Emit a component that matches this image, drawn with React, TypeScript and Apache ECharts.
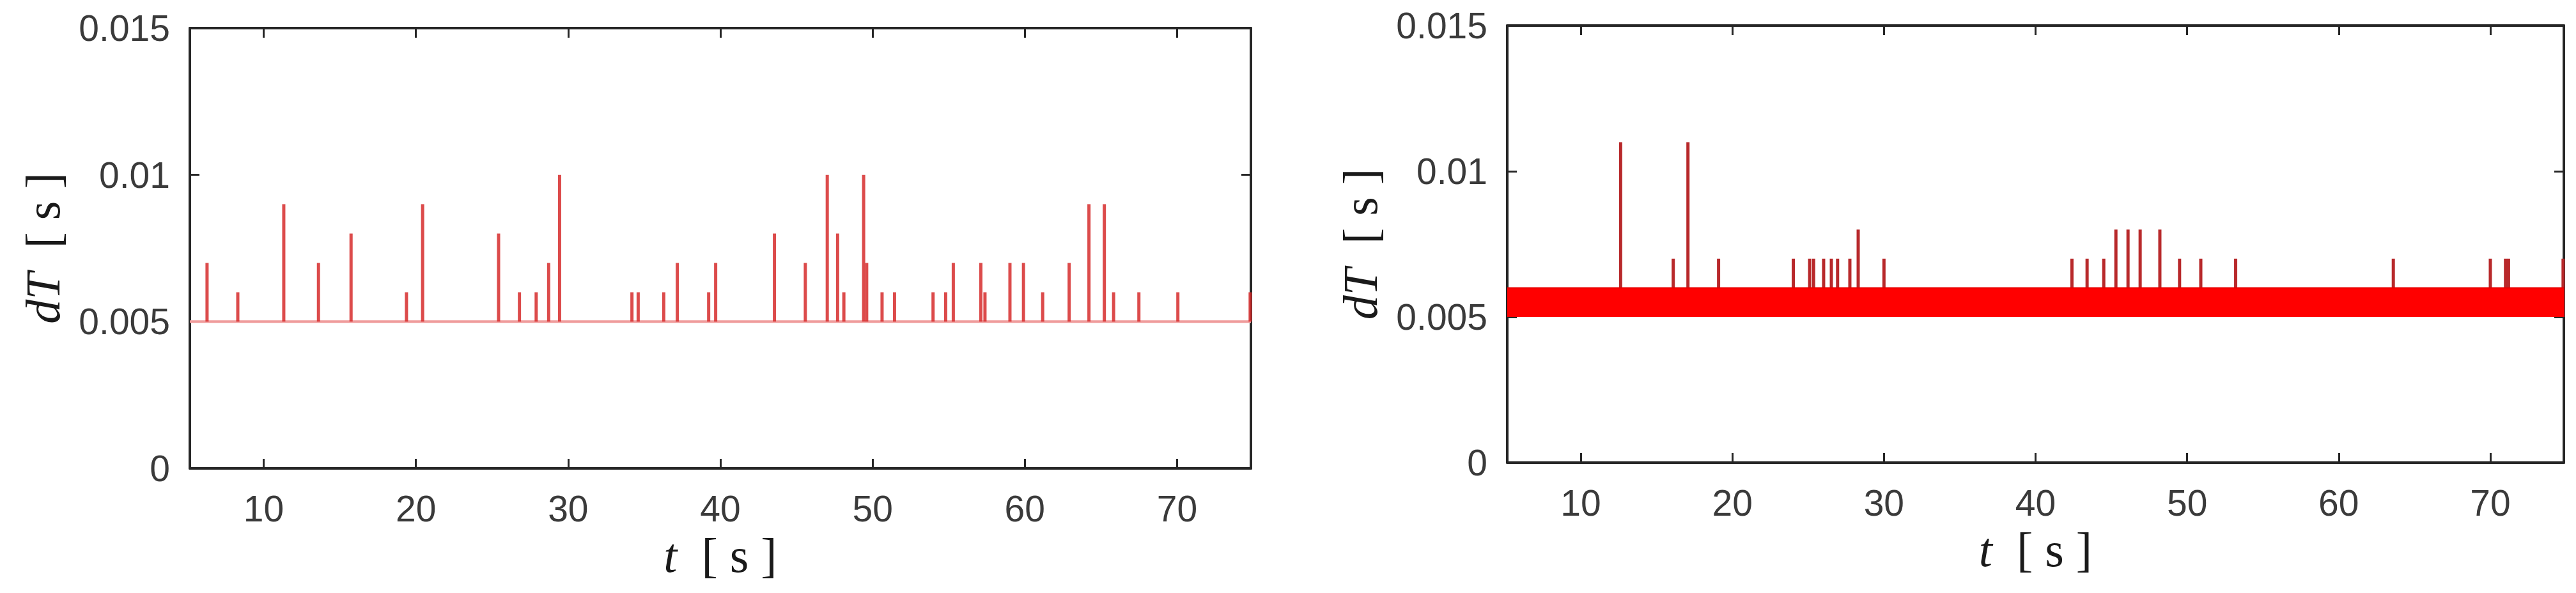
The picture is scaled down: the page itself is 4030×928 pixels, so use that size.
import React, { useEffect, useRef } from "react";
import * as echarts from "echarts";

// ---- Data ----
const tickValuesT = [10, 20, 30, 40, 50, 60, 70];

// Left panel: baseline dT and isolated spikes
const leftBaseline = 0.005;
const leftSpikeT = [
  6.28, 8.3, 11.32, 13.6, 15.74, 19.38, 20.44, 25.43, 26.8, 27.9, 28.72, 29.44,
  34.19, 34.6, 36.28, 37.17, 39.23, 39.69, 43.55, 45.58, 47.02, 47.7, 48.11,
  49.41, 49.61, 50.62, 51.44, 53.97, 54.8, 55.3, 57.11, 57.38, 59.02, 59.91,
  61.17, 62.91, 64.21, 65.22, 65.83, 67.49, 70.05, 74.8,
];
const leftSpikeV = [
  0.007, 0.006, 0.009, 0.007, 0.008, 0.006, 0.009, 0.008, 0.006, 0.006, 0.007,
  0.01, 0.006, 0.006, 0.006, 0.007, 0.006, 0.007, 0.008, 0.007, 0.01, 0.008,
  0.006, 0.01, 0.007, 0.006, 0.006, 0.006, 0.006, 0.007, 0.007, 0.006, 0.007,
  0.007, 0.006, 0.007, 0.009, 0.009, 0.006, 0.006, 0.006, 0.006,
];

// Right panel: dense jitter band between 5 ms and 6 ms, plus spikes
const rightBandLow = 0.005;
const rightBandHigh = 0.006;
const rightSpikeT = [
  12.63, 16.1, 17.07, 19.09, 24.02, 25.1, 25.36, 26.02, 26.53, 26.94, 27.75,
  28.3, 30.0, 42.4, 43.4, 44.5, 45.3, 46.1, 46.9, 48.2, 49.5, 50.9, 53.2, 63.6,
  70.0, 71.0, 71.2, 74.8,
];
const rightSpikeV = [
  0.011, 0.007, 0.011, 0.007, 0.007, 0.007, 0.007, 0.007, 0.007, 0.007, 0.007,
  0.008, 0.007, 0.007, 0.007, 0.007, 0.008, 0.008, 0.008, 0.008, 0.007, 0.007,
  0.007, 0.007, 0.007, 0.007, 0.007, 0.007,
];

const T_MIN = 5.15;
const T_MAX = 74.85;
const Y_MIN = 0;
const Y_MAX = 0.015;
const Y_STEP = 0.005;

const AXIS_COLOR = "#262626";
const LABEL_COLOR = "#3a3a3a";
const SANS = "Liberation Sans, Arial, Helvetica, sans-serif";
const SERIF = "Liberation Serif, Times New Roman, serif";

const nameRich = {
  it: { fontFamily: SERIF, fontStyle: "italic", fontSize: 76, color: "#1a1a1a" },
  rm: { fontFamily: SERIF, fontSize: 76, color: "#1a1a1a" },
};

function spikeSeries(
  xi: number,
  yi: number,
  ts: number[],
  vs: number[],
  base: number,
  color: string,
  width: number,
  z: number
) {
  return {
    type: "custom",
    xAxisIndex: xi,
    yAxisIndex: yi,
    z,
    silent: true,
    data: ts.map((t, i) => [t, vs[i]]),
    encode: { x: 0, y: 1 },
    renderItem: (_params: any, api: any) => {
      const t = api.value(0);
      const v = api.value(1);
      const p0 = api.coord([t, base]);
      const p1 = api.coord([t, v]);
      return {
        type: "line",
        shape: { x1: p0[0], y1: p0[1], x2: p1[0], y2: p1[1] },
        style: { stroke: color, lineWidth: width },
      };
    },
  };
}

function xAxes(gridIndex: number) {
  const common = {
    type: "value",
    gridIndex,
    min: T_MIN,
    max: T_MAX,
    splitLine: { show: false },
    axisLine: { show: true, onZero: false, lineStyle: { color: AXIS_COLOR, width: 4 } },
    axisTick: {
      show: true,
      inside: true,
      length: 15,
      customValues: tickValuesT,
      lineStyle: { color: AXIS_COLOR, width: 3 },
    },
  };
  return [
    {
      ...common,
      position: "bottom",
      name: "{it|t}{rm|  [ s ]}",
      nameLocation: "middle",
      nameGap: 98,
      nameTextStyle: { rich: nameRich },
      axisLabel: {
        show: true,
        customValues: tickValuesT,
        margin: 34,
        fontSize: 57,
        fontFamily: SANS,
        color: LABEL_COLOR,
      },
    },
    {
      ...common,
      position: "top",
      axisLabel: { show: false },
    },
  ];
}

function yAxes(gridIndex: number, nameGap: number) {
  const common = {
    type: "value",
    gridIndex,
    min: Y_MIN,
    max: Y_MAX,
    interval: Y_STEP,
    splitLine: { show: false },
    axisLine: { show: true, onZero: false, lineStyle: { color: AXIS_COLOR, width: 4 } },
    axisTick: { show: true, inside: true, length: 15, lineStyle: { color: AXIS_COLOR, width: 3 } },
  };
  return [
    {
      ...common,
      position: "left",
      name: "{it|dT}{rm|  [ s ]}",
      nameLocation: "middle",
      nameGap,
      nameTextStyle: { rich: nameRich },
      axisLabel: {
        show: true,
        margin: 31,
        fontSize: 57,
        fontFamily: SANS,
        color: LABEL_COLOR,
      },
    },
    {
      ...common,
      position: "right",
      axisLabel: { show: false },
    },
  ];
}

export default function App() {
  const ref = useRef<HTMLDivElement>(null);

  useEffect(() => {
    if (!ref.current) return;
    const chart = echarts.init(ref.current, undefined, { renderer: "svg" });
    const option: any = {
      animation: false,
      backgroundColor: "#ffffff",
      grid: [
        { left: 297, top: 44, width: 1660, height: 689, containLabel: false },
        { left: 2358, top: 40, width: 1653, height: 684, containLabel: false },
      ],
      xAxis: [...xAxes(0), ...xAxes(1)],
      yAxis: [...yAxes(0, 192), ...yAxes(1, 192)],
      series: [
        // Left panel baseline
        {
          type: "line",
          xAxisIndex: 0,
          yAxisIndex: 0,
          silent: true,
          symbol: "none",
          z: 2,
          data: [
            [T_MIN, leftBaseline],
            [T_MAX, leftBaseline],
          ],
          lineStyle: { color: "#ef9c9c", width: 4 },
        },
        spikeSeries(0, 0, leftSpikeT, leftSpikeV, leftBaseline, "rgba(214,44,44,0.85)", 5, 3),
        // Right panel spikes (under the band)
        spikeSeries(2, 2, rightSpikeT, rightSpikeV, rightBandLow, "#b8292b", 5, 2),
        // Right panel jitter band
        {
          type: "line",
          xAxisIndex: 2,
          yAxisIndex: 2,
          silent: true,
          symbol: "none",
          z: 4,
          data: [
            [T_MIN, rightBandHigh],
            [T_MAX, rightBandHigh],
          ],
          lineStyle: { color: "#e80000", width: 2 },
          areaStyle: { color: "#ff0000", opacity: 1, origin: rightBandLow },
        },
      ],
    };
    chart.setOption(option);
    return () => chart.dispose();
  }, []);

  return (
    <div
      ref={ref}
      style={{ position: "absolute", left: 0, top: 0, width: 4030, height: 928, background: "#fff" }}
    />
  );
}
